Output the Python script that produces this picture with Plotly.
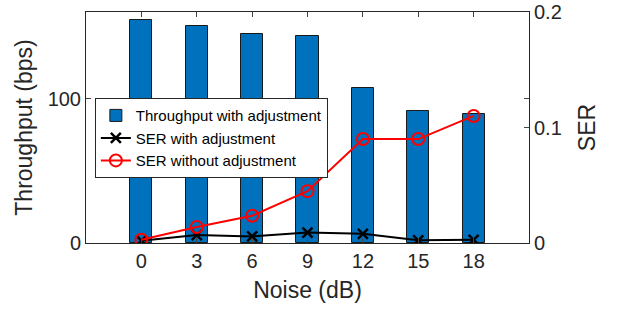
import plotly.graph_objects as go

noise = [0, 3, 6, 9, 12, 15, 18]
throughput_adj = [154.5, 150.1, 144.8, 143.7, 107.4, 91.2, 89.4]
ser_adj = [0.002, 0.0069, 0.0057, 0.009, 0.008, 0.0023, 0.0028]
ser_noadj = [0.0028, 0.0138, 0.0236, 0.0449, 0.090, 0.090, 0.110]

axc = "#262626"
font = "Liberation Sans, Arial, sans-serif"

fig = go.Figure()
fig.add_trace(go.Bar(x=noise, y=throughput_adj, width=1.2, name="Throughput with adjustment",
                     marker=dict(color="#0072BD", line=dict(color="#1a1a1a", width=1))))
fig.add_trace(go.Scatter(x=noise, y=ser_adj, yaxis="y2", mode="lines+markers",
                         name="SER with adjustment",
                         line=dict(color="black", width=2),
                         marker=dict(symbol="x-thin", size=10, line=dict(color="black", width=2.5))))
fig.add_trace(go.Scatter(x=noise, y=ser_noadj, yaxis="y2", mode="lines+markers",
                         name="SER without adjustment",
                         line=dict(color="#ff0000", width=2),
                         marker=dict(symbol="circle-open", size=12, color="#ff0000", line=dict(width=2))))

fig.update_layout(
    width=617, height=309,
    margin=dict(l=86, r=88, t=12, b=66, autoexpand=False),
    plot_bgcolor="white", paper_bgcolor="white",
    font=dict(family=font, color=axc, size=20),
    showlegend=True,
    legend=dict(x=0.02, y=0.627, xanchor="left", yanchor="top",
                bgcolor="white", bordercolor=axc, borderwidth=1,
                font=dict(size=15, color="black"), tracegroupgap=0,
                itemwidth=30),
    xaxis=dict(range=[-3, 21], tickvals=noise, ticks="inside", ticklen=5,
               showline=True, linecolor=axc, mirror="ticks", showgrid=False, zeroline=False,
               automargin=False,
               title=dict(text="Noise (dB)", font=dict(size=23), standoff=10),
               tickfont=dict(size=20)),
    yaxis=dict(range=[0, 160], tickvals=[0, 100], ticks="inside", ticklen=5,
               showline=True, linecolor=axc, mirror="ticks", showgrid=False, zeroline=False,
               automargin=False,
               title=dict(text="Throughput (bps)", font=dict(size=23), standoff=8),
               tickfont=dict(size=20)),
    yaxis2=dict(range=[0, 0.2], tickvals=[0, 0.1, 0.2], ticktext=["0", "0.1", "0.2"],
                overlaying="y", side="right", ticks="inside", ticklen=5,
                showline=True, linecolor=axc, showgrid=False, zeroline=False,
                automargin=False,
                title=dict(text="SER", font=dict(size=23), standoff=18),
                tickfont=dict(size=20)),
    bargap=0,
)

fig.write_html("out.html", config={"displayModeBar": False},
               post_script="document.body.style.margin='0';")
